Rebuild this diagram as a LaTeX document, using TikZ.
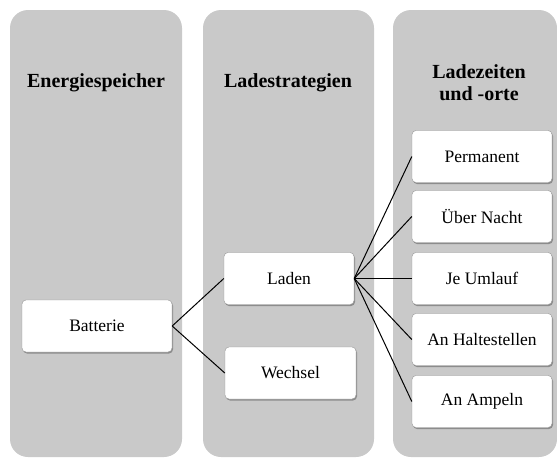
\documentclass[tikz,border=0pt]{standalone}
\usepackage{fontspec}
\setmainfont{Liberation Serif}
\usetikzlibrary{shadows}

\definecolor{panelgray}{RGB}{201,201,201}
\definecolor{boxline}{RGB}{150,150,150}

\tikzset{
  panel/.style={fill=panelgray, rounded corners=18pt},
  head/.style={font=\fontsize{20}{22}\selectfont\bfseries, align=center},
  item/.style={draw=boxline, fill=white, rounded corners=4pt, inner sep=0pt,
    minimum height=52pt, font=\fontsize{17.5}{20}\selectfont,
    drop shadow={shadow xshift=1pt, shadow yshift=-1.5pt, fill=black, opacity=0.3}},
  link/.style={draw=black, line width=1pt}
}

\begin{document}
\begin{tikzpicture}[x=1pt, y=-1pt]
    \useasboundingbox (0,0) rectangle (557,459);

    % Panels
      \fill[panel] (10,10) rectangle (182,457);
      \fill[panel] (203,10) rectangle (374,457);
      \fill[panel] (393,10) rectangle (557,457);

    % Headings
      \node[head] (hspeicher) at (96,83) {Energiespeicher};
      \node[head] (hstrategie) at (288,83) {Ladestrategien};
      \node[head] (hort) at (479,83) {Ladezeiten\\und -orte};

    % Vertices
      \node[item, minimum width=150pt] (batterie) at (97,326) {Batterie};
      \node[item, minimum width=130pt] (laden) at (289,278.5) {Laden};
      \node[item, minimum width=131pt] (wechsel) at (290.5,373) {Wechsel};
      \node[item, minimum width=140pt] (permanent) at (482,156.5) {Permanent};
      \node[item, minimum width=140pt] (nacht) at (482,216.5) {Über Nacht};
      \node[item, minimum width=140pt] (umlauf) at (482,278.5) {Je Umlauf};
      \node[item, minimum width=140pt] (halt) at (482,339.5) {An Haltestellen};
      \node[item, minimum width=140pt] (ampel) at (482,401.5) {An Ampeln};

    % Edges
      \draw[link] (batterie.east) -- (laden.west);
      \draw[link] (batterie.east) -- (wechsel.west);
      \draw[link] (laden.east) -- (permanent.west);
      \draw[link] (laden.east) -- (nacht.west);
      \draw[link] (laden.east) -- (umlauf.west);
      \draw[link] (laden.east) -- (halt.west);
      \draw[link] (laden.east) -- (ampel.west);
\end{tikzpicture}
\end{document}
